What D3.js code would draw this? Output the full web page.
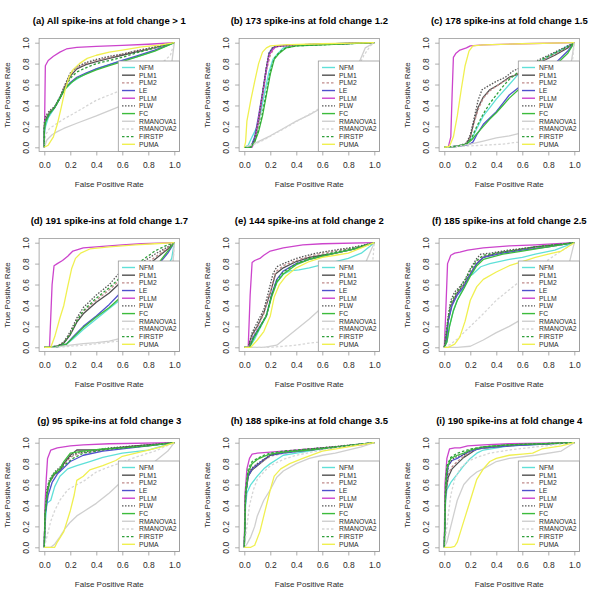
<!DOCTYPE html>
<html><head><meta charset="utf-8">
<script src="https://cdn.jsdelivr.net/npm/d3@7"></script>
<style>body{margin:0;background:#fff}svg{display:block}text{font-family:"Liberation Sans",Arial,sans-serif}</style>
</head><body><svg id="c" width="600" height="600"></svg>
<script>
const seriesNames = ["NFM","PLM1","PLM2","LE","PLLM","PLW","FC","RMANOVA1","RMANOVA2","FIRSTP","PUMA"];
const seriesColors = ["#5fe0d8","#505050","#c08c8c","#5050cc","#cc44cc","#555555","#3cbc3c","#cfcfcf","#d6d6d6","#2f9f3a","#f0f050"];
const seriesDash = [null,null,"2.5,2",null,null,"1.5,1.5",null,null,"2.5,2","2.5,2",null];
const panelTitles = ["(a) All spike-ins at fold change > 1","(b) 173 spike-ins at fold change 1.2","(c) 178 spike-ins at fold change 1.5","(d) 191 spike-ins at fold change 1.7","(e) 144 spike-ins at fold change 2","(f) 185 spike-ins at fold change 2.5","(g) 95 spike-ins at fold change 3","(h) 188 spike-ins at fold change 3.5","(i) 190 spike-ins at fold change 4"];
const tickValues = [0,0.2,0.4,0.6,0.8,1.0];

const rocA = [
 [[0,0],[0,0.12],[0.01,0.2],[0.03,0.28],[0.07,0.36],[0.12,0.48],[0.17,0.57],[0.22,0.63],[0.3,0.69],[0.4,0.75],[0.5,0.79],[0.6,0.83],[0.7,0.86],[0.8,0.9],[0.9,0.95],[1,1]],
 [[0,0],[0,0.2],[0.01,0.27],[0.04,0.33],[0.08,0.38],[0.12,0.47],[0.16,0.58],[0.2,0.68],[0.25,0.75],[0.32,0.79],[0.4,0.82],[0.5,0.85],[0.6,0.88],[0.7,0.91],[0.85,0.95],[1,1]],
 [[0,0],[0,0.22],[0.01,0.28],[0.04,0.34],[0.08,0.39],[0.12,0.48],[0.16,0.6],[0.2,0.7],[0.25,0.76],[0.32,0.8],[0.4,0.83],[0.5,0.86],[0.6,0.89],[0.7,0.92],[0.85,0.95],[1,1]],
 [[0,0],[0,0.18],[0.01,0.25],[0.04,0.32],[0.08,0.38],[0.12,0.47],[0.16,0.56],[0.2,0.62],[0.25,0.67],[0.32,0.71],[0.4,0.75],[0.5,0.79],[0.6,0.83],[0.7,0.87],[0.85,0.93],[1,1]],
 [[0,0],[0.003,0.3],[0.008,0.78],[0.03,0.83],[0.07,0.87],[0.12,0.91],[0.17,0.94],[0.25,0.955],[0.4,0.965],[0.6,0.975],[0.8,0.985],[1,1]],
 [[0,0],[0,0.25],[0.01,0.3],[0.04,0.35],[0.08,0.39],[0.12,0.48],[0.16,0.6],[0.2,0.71],[0.25,0.77],[0.32,0.81],[0.4,0.84],[0.5,0.87],[0.6,0.89],[0.7,0.92],[0.85,0.96],[1,1]],
 [[0,0],[0,0.16],[0.01,0.24],[0.04,0.32],[0.08,0.38],[0.12,0.47],[0.16,0.56],[0.2,0.61],[0.25,0.66],[0.32,0.7],[0.4,0.74],[0.5,0.78],[0.6,0.82],[0.7,0.86],[0.85,0.92],[1,1]],
 [[0,0],[0.02,0.07],[0.06,0.12],[0.1,0.15],[0.15,0.18],[0.25,0.23],[0.4,0.3],[0.5,0.35],[0.6,0.4],[0.7,0.46],[0.8,0.54],[0.9,0.62],[0.97,0.7],[1,1]],
 [[0,0],[0.01,0.12],[0.04,0.18],[0.1,0.23],[0.15,0.27],[0.25,0.34],[0.4,0.45],[0.5,0.5],[0.6,0.55],[0.7,0.62],[0.8,0.7],[0.9,0.8],[0.97,0.88],[1,1]],
 [[0,0],[0,0.2],[0.01,0.26],[0.04,0.33],[0.08,0.38],[0.12,0.47],[0.16,0.57],[0.2,0.66],[0.25,0.72],[0.32,0.76],[0.4,0.8],[0.5,0.83],[0.6,0.86],[0.7,0.9],[0.85,0.95],[1,1]],
 [[0,0],[0.03,0.02],[0.07,0.1],[0.1,0.22],[0.13,0.38],[0.16,0.55],[0.19,0.67],[0.22,0.74],[0.27,0.8],[0.33,0.85],[0.4,0.88],[0.5,0.91],[0.6,0.93],[0.75,0.96],[0.9,0.98],[1,1]]
];
const rocB = [
 [[0,0],[0.03,0.02],[0.06,0.1],[0.1,0.2],[0.13,0.35],[0.16,0.55],[0.19,0.72],[0.22,0.84],[0.26,0.9],[0.3,0.95],[0.35,0.97],[0.5,0.98],[0.7,0.99],[1,1]],
 [[0,0],[0.05,0],[0.08,0.08],[0.11,0.25],[0.14,0.5],[0.17,0.75],[0.19,0.88],[0.22,0.95],[0.26,0.97],[0.4,0.98],[0.7,0.99],[1,1]],
 [[0,0],[0.05,0],[0.08,0.07],[0.11,0.24],[0.14,0.48],[0.17,0.73],[0.2,0.88],[0.23,0.95],[0.27,0.97],[0.4,0.98],[0.7,0.99],[1,1]],
 [[0,0],[0.05,0],[0.08,0.1],[0.11,0.3],[0.14,0.52],[0.17,0.76],[0.19,0.9],[0.22,0.95],[0.26,0.97],[0.4,0.98],[0.7,0.99],[1,1]],
 [[0,0],[0.06,0],[0.08,0.06],[0.11,0.28],[0.14,0.5],[0.17,0.75],[0.19,0.88],[0.21,0.92],[0.24,0.96],[0.3,0.97],[0.5,0.98],[1,1]],
 [[0,0],[0.05,0],[0.08,0.08],[0.11,0.27],[0.14,0.52],[0.17,0.77],[0.19,0.9],[0.22,0.96],[0.3,0.97],[0.5,0.98],[1,1]],
 [[0,0],[0.05,0],[0.08,0.05],[0.11,0.15],[0.14,0.3],[0.17,0.5],[0.2,0.7],[0.23,0.84],[0.27,0.9],[0.32,0.95],[0.4,0.97],[0.6,0.98],[1,1]],
 [[0,0],[0.05,0.02],[0.1,0.05],[0.2,0.11],[0.3,0.18],[0.4,0.25],[0.5,0.31],[0.6,0.38],[0.7,0.48],[0.8,0.6],[0.88,0.8],[0.93,0.95],[1,1]],
 [[0,0],[0.08,0.03],[0.15,0.07],[0.25,0.14],[0.35,0.21],[0.45,0.28],[0.55,0.35],[0.65,0.43],[0.75,0.55],[0.85,0.7],[0.92,0.88],[0.97,0.97],[1,1]],
 [[0,0],[0.05,0],[0.08,0.06],[0.11,0.17],[0.14,0.33],[0.17,0.53],[0.2,0.72],[0.23,0.85],[0.27,0.91],[0.32,0.95],[0.4,0.97],[0.6,0.98],[1,1]],
 [[0,0],[0.01,0.05],[0.02,0.25],[0.05,0.45],[0.08,0.63],[0.11,0.8],[0.14,0.91],[0.17,0.95],[0.2,0.97],[0.3,0.98],[0.6,0.99],[1,1]]
];
const rocC = [
 [[0,0],[0.1,0.01],[0.17,0.03],[0.21,0.08],[0.25,0.18],[0.3,0.3],[0.35,0.38],[0.4,0.46],[0.45,0.53],[0.5,0.6],[0.57,0.7],[0.65,0.77],[0.75,0.83],[0.85,0.9],[0.95,0.97],[1,1]],
 [[0,0],[0.1,0.01],[0.17,0.03],[0.2,0.1],[0.23,0.25],[0.26,0.38],[0.3,0.48],[0.35,0.55],[0.42,0.6],[0.5,0.67],[0.57,0.7],[0.65,0.75],[0.75,0.82],[0.85,0.88],[0.95,0.95],[1,1]],
 [[0,0],[0.1,0.01],[0.17,0.03],[0.2,0.1],[0.23,0.24],[0.26,0.36],[0.3,0.47],[0.35,0.54],[0.42,0.6],[0.5,0.66],[0.57,0.71],[0.65,0.76],[0.75,0.83],[0.85,0.89],[0.95,0.96],[1,1]],
 [[0,0],[0.1,0.01],[0.18,0.02],[0.22,0.05],[0.25,0.12],[0.3,0.22],[0.35,0.28],[0.4,0.34],[0.45,0.42],[0.5,0.5],[0.57,0.57],[0.65,0.62],[0.75,0.7],[0.85,0.8],[0.95,0.92],[1,1]],
 [[0,0],[0.03,0],[0.05,0.1],[0.06,0.5],[0.07,0.86],[0.09,0.9],[0.12,0.93],[0.17,0.95],[0.2,0.97],[0.3,0.98],[0.6,0.99],[1,1]],
 [[0,0],[0.1,0.01],[0.17,0.04],[0.2,0.12],[0.23,0.28],[0.26,0.45],[0.29,0.55],[0.33,0.58],[0.4,0.63],[0.47,0.67],[0.53,0.73],[0.6,0.77],[0.7,0.82],[0.8,0.88],[0.9,0.94],[1,1]],
 [[0,0],[0.1,0.01],[0.17,0.03],[0.21,0.07],[0.25,0.13],[0.3,0.2],[0.35,0.27],[0.4,0.33],[0.45,0.4],[0.5,0.47],[0.57,0.55],[0.65,0.6],[0.75,0.68],[0.85,0.78],[0.95,0.9],[1,1]],
 [[0,0],[0.1,0.01],[0.2,0.03],[0.3,0.06],[0.4,0.09],[0.5,0.11],[0.57,0.13],[0.65,0.17],[0.75,0.25],[0.85,0.38],[0.95,0.6],[1,1]],
 [[0,0],[0.15,0.01],[0.3,0.02],[0.45,0.03],[0.57,0.05],[0.65,0.08],[0.75,0.13],[0.85,0.22],[0.95,0.4],[1,1]],
 [[0,0],[0.1,0.01],[0.17,0.03],[0.21,0.09],[0.25,0.2],[0.3,0.32],[0.35,0.42],[0.4,0.5],[0.45,0.58],[0.5,0.65],[0.57,0.72],[0.65,0.77],[0.75,0.84],[0.85,0.9],[0.95,0.96],[1,1]],
 [[0,0],[0.04,0.01],[0.07,0.1],[0.1,0.3],[0.13,0.55],[0.16,0.78],[0.19,0.92],[0.22,0.97],[0.3,0.98],[0.6,0.99],[1,1]]
];
const rocD = [
 [[0,0],[0.1,0.005],[0.17,0.03],[0.22,0.08],[0.3,0.17],[0.4,0.27],[0.5,0.37],[0.57,0.44],[0.65,0.5],[0.75,0.58],[0.85,0.68],[0.95,0.78],[0.98,0.85],[1,1]],
 [[0,0],[0.1,0.01],[0.15,0.04],[0.2,0.12],[0.25,0.24],[0.3,0.32],[0.4,0.43],[0.5,0.52],[0.57,0.6],[0.65,0.66],[0.75,0.74],[0.85,0.84],[0.95,0.94],[1,1]],
 [[0,0],[0.1,0.01],[0.15,0.05],[0.2,0.13],[0.25,0.26],[0.3,0.34],[0.4,0.45],[0.5,0.55],[0.57,0.63],[0.65,0.69],[0.75,0.77],[0.85,0.86],[0.95,0.95],[1,1]],
 [[0,0],[0.1,0.005],[0.17,0.03],[0.22,0.1],[0.3,0.2],[0.4,0.3],[0.5,0.41],[0.57,0.5],[0.65,0.56],[0.75,0.64],[0.85,0.75],[0.95,0.9],[1,1]],
 [[0,0],[0.04,0],[0.05,0.3],[0.06,0.6],[0.075,0.78],[0.1,0.8],[0.14,0.83],[0.18,0.87],[0.22,0.92],[0.3,0.95],[0.45,0.965],[0.6,0.98],[0.75,0.99],[1,1]],
 [[0,0],[0.1,0.01],[0.15,0.05],[0.2,0.15],[0.25,0.28],[0.3,0.38],[0.4,0.5],[0.5,0.6],[0.57,0.7],[0.65,0.75],[0.75,0.81],[0.85,0.89],[0.95,0.96],[1,1]],
 [[0,0],[0.1,0.005],[0.17,0.03],[0.22,0.09],[0.3,0.19],[0.4,0.29],[0.5,0.38],[0.57,0.46],[0.65,0.54],[0.75,0.64],[0.85,0.76],[0.95,0.92],[1,1]],
 [[0,0],[0.1,0.005],[0.2,0.02],[0.3,0.035],[0.4,0.045],[0.5,0.06],[0.57,0.08],[0.7,0.12],[0.8,0.18],[0.9,0.28],[0.97,0.45],[1,1]],
 [[0,0],[0.15,0.005],[0.3,0.02],[0.45,0.04],[0.57,0.06],[0.7,0.09],[0.8,0.13],[0.9,0.2],[0.97,0.3],[1,1]],
 [[0,0],[0.1,0.01],[0.15,0.04],[0.2,0.13],[0.25,0.25],[0.3,0.35],[0.4,0.47],[0.5,0.57],[0.57,0.65],[0.65,0.72],[0.75,0.83],[0.85,0.92],[0.95,0.98],[1,1]],
 [[0,0],[0.05,0],[0.08,0.1],[0.12,0.28],[0.15,0.4],[0.18,0.58],[0.21,0.75],[0.24,0.85],[0.28,0.9],[0.35,0.94],[0.5,0.96],[0.7,0.98],[0.85,0.99],[1,1]]
];
const rocE = [
 [[0,0],[0.04,0],[0.08,0.08],[0.12,0.18],[0.17,0.3],[0.21,0.5],[0.25,0.62],[0.3,0.7],[0.35,0.73],[0.42,0.74],[0.5,0.76],[0.6,0.79],[0.7,0.82],[0.8,0.85],[0.9,0.9],[1,1]],
 [[0,0],[0.03,0],[0.06,0.12],[0.1,0.2],[0.15,0.33],[0.2,0.52],[0.24,0.7],[0.3,0.76],[0.4,0.82],[0.5,0.86],[0.6,0.88],[0.7,0.9],[0.85,0.94],[1,1]],
 [[0,0],[0.03,0],[0.06,0.1],[0.1,0.19],[0.15,0.32],[0.2,0.53],[0.24,0.72],[0.3,0.78],[0.4,0.83],[0.5,0.87],[0.6,0.9],[0.7,0.92],[0.85,0.95],[1,1]],
 [[0,0],[0.04,0],[0.07,0.1],[0.12,0.2],[0.17,0.3],[0.21,0.5],[0.25,0.65],[0.3,0.73],[0.4,0.8],[0.5,0.84],[0.6,0.87],[0.7,0.9],[0.85,0.94],[1,1]],
 [[0,0],[0.03,0],[0.045,0.5],[0.06,0.81],[0.08,0.83],[0.12,0.85],[0.15,0.88],[0.2,0.92],[0.3,0.95],[0.45,0.98],[0.6,0.99],[1,1]],
 [[0,0],[0.03,0],[0.06,0.14],[0.1,0.24],[0.15,0.36],[0.18,0.5],[0.22,0.7],[0.25,0.77],[0.3,0.8],[0.4,0.85],[0.55,0.9],[0.7,0.93],[0.85,0.96],[1,1]],
 [[0,0],[0.04,0],[0.07,0.08],[0.12,0.19],[0.17,0.3],[0.21,0.48],[0.25,0.62],[0.3,0.7],[0.4,0.79],[0.5,0.84],[0.6,0.87],[0.7,0.9],[0.85,0.94],[1,1]],
 [[0,0],[0.15,0],[0.25,0.02],[0.3,0.07],[0.4,0.17],[0.5,0.27],[0.57,0.35],[0.65,0.43],[0.75,0.53],[0.85,0.65],[0.93,0.8],[1,1]],
 [[0,0],[0.2,0],[0.3,0.01],[0.4,0.02],[0.5,0.04],[0.57,0.05],[0.7,0.08],[0.8,0.12],[0.9,0.2],[0.96,0.4],[1,1]],
 [[0,0],[0.04,0],[0.07,0.09],[0.12,0.19],[0.17,0.31],[0.21,0.5],[0.25,0.64],[0.3,0.72],[0.4,0.8],[0.5,0.85],[0.6,0.88],[0.7,0.91],[0.85,0.95],[1,1]],
 [[0,0],[0.05,0],[0.1,0.07],[0.15,0.15],[0.2,0.3],[0.23,0.48],[0.27,0.6],[0.32,0.68],[0.4,0.76],[0.5,0.82],[0.6,0.86],[0.7,0.88],[0.8,0.9],[0.9,0.95],[1,1]]
];
const rocF = [
 [[0,0],[0.02,0.05],[0.04,0.2],[0.07,0.35],[0.1,0.45],[0.15,0.58],[0.18,0.67],[0.22,0.7],[0.28,0.77],[0.35,0.8],[0.5,0.84],[0.6,0.86],[0.7,0.89],[0.85,0.93],[1,1]],
 [[0,0],[0.01,0.05],[0.03,0.25],[0.06,0.42],[0.1,0.52],[0.15,0.6],[0.2,0.7],[0.25,0.8],[0.3,0.86],[0.4,0.9],[0.55,0.93],[0.7,0.96],[0.85,0.98],[1,1]],
 [[0,0],[0.01,0.06],[0.03,0.27],[0.06,0.44],[0.1,0.53],[0.15,0.6],[0.2,0.72],[0.25,0.82],[0.3,0.87],[0.4,0.9],[0.55,0.93],[0.7,0.95],[0.85,0.97],[1,1]],
 [[0,0],[0.015,0.05],[0.03,0.25],[0.06,0.4],[0.1,0.5],[0.15,0.58],[0.2,0.7],[0.25,0.8],[0.3,0.86],[0.45,0.9],[0.6,0.93],[0.8,0.96],[1,1]],
 [[0,0],[0.01,0.3],[0.025,0.8],[0.05,0.88],[0.08,0.9],[0.12,0.91],[0.18,0.93],[0.3,0.95],[0.5,0.97],[0.7,0.98],[1,1]],
 [[0,0],[0.01,0.1],[0.03,0.3],[0.05,0.45],[0.08,0.53],[0.12,0.58],[0.16,0.65],[0.2,0.75],[0.25,0.85],[0.28,0.89],[0.35,0.9],[0.5,0.93],[0.7,0.96],[1,1]],
 [[0,0],[0.02,0.05],[0.04,0.2],[0.07,0.35],[0.1,0.45],[0.15,0.56],[0.2,0.68],[0.25,0.78],[0.3,0.84],[0.45,0.89],[0.6,0.92],[0.8,0.96],[1,1]],
 [[0,0],[0.1,0],[0.2,0.01],[0.3,0.07],[0.4,0.14],[0.5,0.2],[0.57,0.25],[0.7,0.35],[0.8,0.45],[0.9,0.62],[0.96,0.8],[1,1]],
 [[0,0],[0.05,0.03],[0.1,0.08],[0.2,0.2],[0.3,0.32],[0.4,0.45],[0.5,0.55],[0.57,0.62],[0.7,0.75],[0.85,0.88],[1,1]],
 [[0,0],[0.01,0.08],[0.03,0.28],[0.05,0.42],[0.08,0.5],[0.12,0.57],[0.16,0.64],[0.2,0.74],[0.25,0.83],[0.3,0.88],[0.4,0.9],[0.55,0.93],[0.7,0.96],[1,1]],
 [[0,0],[0.03,0],[0.08,0.03],[0.12,0.1],[0.16,0.25],[0.2,0.45],[0.25,0.58],[0.3,0.65],[0.4,0.72],[0.5,0.78],[0.6,0.82],[0.7,0.86],[0.8,0.89],[0.9,0.92],[1,1]]
];
const rocG = [
 [[0,0],[0.005,0.2],[0.02,0.42],[0.05,0.45],[0.08,0.58],[0.12,0.68],[0.18,0.75],[0.25,0.78],[0.35,0.82],[0.45,0.86],[0.6,0.9],[0.8,0.93],[1,1]],
 [[0,0],[0.005,0.3],[0.02,0.5],[0.04,0.62],[0.08,0.7],[0.12,0.73],[0.15,0.8],[0.2,0.88],[0.25,0.93],[0.4,0.93],[0.55,0.95],[0.7,0.97],[1,1]],
 [[0,0],[0.005,0.32],[0.02,0.52],[0.04,0.63],[0.08,0.7],[0.12,0.74],[0.15,0.79],[0.2,0.86],[0.27,0.9],[0.4,0.92],[0.55,0.94],[0.7,0.96],[1,1]],
 [[0,0],[0.005,0.3],[0.03,0.5],[0.06,0.62],[0.1,0.7],[0.15,0.76],[0.2,0.82],[0.3,0.88],[0.45,0.92],[0.6,0.94],[0.8,0.97],[1,1]],
 [[0,0],[0.005,0.4],[0.015,0.65],[0.025,0.85],[0.05,0.93],[0.1,0.95],[0.2,0.97],[0.3,0.98],[0.5,0.99],[1,1]],
 [[0,0],[0.005,0.3],[0.02,0.55],[0.04,0.65],[0.08,0.72],[0.15,0.8],[0.2,0.87],[0.25,0.9],[0.35,0.92],[0.5,0.95],[0.7,0.97],[1,1]],
 [[0,0],[0.005,0.3],[0.02,0.5],[0.04,0.62],[0.07,0.7],[0.12,0.75],[0.15,0.82],[0.2,0.9],[0.3,0.92],[0.45,0.94],[0.6,0.95],[0.8,0.97],[1,1]],
 [[0,0],[0.05,0],[0.08,0.03],[0.12,0.1],[0.16,0.18],[0.2,0.24],[0.25,0.3],[0.3,0.34],[0.4,0.42],[0.5,0.52],[0.57,0.6],[0.7,0.7],[0.85,0.82],[0.95,0.92],[1,1]],
 [[0,0],[0.02,0.1],[0.05,0.25],[0.08,0.35],[0.12,0.45],[0.18,0.55],[0.25,0.6],[0.3,0.63],[0.4,0.72],[0.5,0.77],[0.57,0.8],[0.7,0.86],[0.85,0.92],[1,1]],
 [[0,0],[0.005,0.3],[0.03,0.6],[0.06,0.68],[0.1,0.72],[0.15,0.78],[0.22,0.85],[0.3,0.9],[0.5,0.94],[0.7,0.96],[1,1]],
 [[0,0],[0.03,0],[0.08,0],[0.1,0.05],[0.15,0.15],[0.2,0.35],[0.23,0.5],[0.25,0.64],[0.3,0.68],[0.35,0.74],[0.45,0.78],[0.55,0.83],[0.6,0.87],[0.8,0.93],[0.9,0.96],[1,1]]
];
const rocH = [
 [[0,0],[0.01,0.4],[0.02,0.52],[0.05,0.6],[0.1,0.68],[0.15,0.75],[0.2,0.8],[0.25,0.84],[0.3,0.88],[0.4,0.9],[0.6,0.94],[1,1]],
 [[0,0],[0.01,0.5],[0.03,0.68],[0.06,0.74],[0.1,0.78],[0.15,0.83],[0.2,0.88],[0.3,0.91],[0.5,0.93],[1,1]],
 [[0,0],[0.01,0.52],[0.03,0.7],[0.06,0.75],[0.1,0.79],[0.15,0.83],[0.2,0.87],[0.3,0.9],[0.5,0.93],[1,1]],
 [[0,0],[0.01,0.5],[0.03,0.68],[0.06,0.75],[0.1,0.79],[0.15,0.84],[0.2,0.88],[0.3,0.9],[0.5,0.93],[1,1]],
 [[0,0],[0.005,0.5],[0.02,0.75],[0.04,0.85],[0.06,0.89],[0.1,0.9],[0.2,0.91],[0.3,0.92],[0.5,0.94],[0.7,0.96],[0.9,0.98],[1,1]],
 [[0,0],[0.01,0.5],[0.03,0.7],[0.06,0.76],[0.1,0.8],[0.15,0.84],[0.2,0.88],[0.3,0.91],[0.5,0.94],[1,1]],
 [[0,0],[0.01,0.5],[0.03,0.72],[0.06,0.8],[0.1,0.84],[0.15,0.87],[0.2,0.89],[0.3,0.91],[0.5,0.93],[1,1]],
 [[0,0],[0.02,0.03],[0.05,0.1],[0.08,0.2],[0.1,0.3],[0.15,0.45],[0.2,0.55],[0.25,0.67],[0.3,0.73],[0.4,0.8],[0.5,0.85],[0.6,0.88],[0.7,0.9],[0.9,0.96],[1,1]],
 [[0,0],[0.02,0.2],[0.04,0.4],[0.07,0.55],[0.1,0.65],[0.15,0.72],[0.2,0.78],[0.3,0.84],[0.4,0.88],[0.6,0.93],[1,1]],
 [[0,0],[0.01,0.55],[0.03,0.75],[0.06,0.82],[0.1,0.85],[0.15,0.88],[0.2,0.9],[0.3,0.92],[0.5,0.94],[0.7,0.96],[1,1]],
 [[0,0],[0.05,0],[0.08,0.02],[0.12,0.15],[0.16,0.35],[0.2,0.55],[0.23,0.68],[0.28,0.75],[0.35,0.8],[0.45,0.85],[0.6,0.92],[0.8,0.96],[1,1]]
];
const rocI = [
 [[0,0],[0.01,0.45],[0.02,0.55],[0.05,0.62],[0.1,0.7],[0.15,0.78],[0.2,0.85],[0.25,0.9],[0.3,0.93],[0.5,0.97],[1,1]],
 [[0,0],[0.01,0.5],[0.03,0.67],[0.06,0.75],[0.1,0.8],[0.15,0.86],[0.2,0.9],[0.25,0.94],[0.4,0.96],[0.6,0.98],[1,1]],
 [[0,0],[0.01,0.52],[0.03,0.7],[0.06,0.77],[0.1,0.82],[0.15,0.87],[0.2,0.91],[0.25,0.94],[0.4,0.96],[0.6,0.98],[1,1]],
 [[0,0],[0.01,0.55],[0.03,0.78],[0.06,0.83],[0.1,0.85],[0.15,0.89],[0.2,0.92],[0.3,0.95],[0.5,0.97],[1,1]],
 [[0,0],[0.005,0.6],[0.02,0.85],[0.04,0.94],[0.08,0.95],[0.12,0.95],[0.18,0.97],[0.3,0.98],[0.5,0.99],[1,1]],
 [[0,0],[0.01,0.55],[0.03,0.78],[0.06,0.84],[0.1,0.87],[0.15,0.88],[0.2,0.93],[0.3,0.96],[0.5,0.98],[1,1]],
 [[0,0],[0.01,0.55],[0.02,0.75],[0.05,0.85],[0.1,0.88],[0.15,0.9],[0.2,0.93],[0.3,0.96],[0.5,0.98],[1,1]],
 [[0,0],[0.02,0.05],[0.05,0.2],[0.08,0.35],[0.1,0.45],[0.15,0.6],[0.2,0.67],[0.25,0.72],[0.3,0.75],[0.4,0.82],[0.5,0.85],[0.7,0.88],[0.9,0.92],[1,1]],
 [[0,0],[0.02,0.2],[0.05,0.5],[0.08,0.65],[0.12,0.75],[0.18,0.82],[0.25,0.86],[0.35,0.9],[0.5,0.93],[0.7,0.96],[1,1]],
 [[0,0],[0.01,0.6],[0.02,0.78],[0.05,0.86],[0.1,0.9],[0.15,0.92],[0.2,0.94],[0.3,0.96],[0.5,0.98],[1,1]],
 [[0,0],[0.05,0],[0.08,0.01],[0.1,0.05],[0.15,0.25],[0.2,0.45],[0.25,0.65],[0.3,0.75],[0.35,0.82],[0.4,0.85],[0.5,0.88],[0.6,0.89],[0.68,0.9],[0.75,0.94],[0.9,0.97],[1,1]]
];
const panels = [rocA,rocB,rocC,rocD,rocE,rocF,rocG,rocH,rocI];

const svg = d3.select("#c");
const boxCol = "#9a9a9a", txtCol = "#2a2a2a";
panels.forEach((data, i) => {
  const c = i % 3, r = Math.floor(i / 3);
  const ox = c * 200, oy = r * 200;
  const x = d3.scaleLinear().domain([0, 1]).range([ox + 44.3, ox + 174.3]);
  const y = d3.scaleLinear().domain([0, 1]).range([oy + 147.3, oy + 42.7]);
  const g = svg.append("g");
  const bx0 = x(-0.04), bx1 = x(1.04), by0 = y(1.04), by1 = y(-0.04);

  const line = d3.line().x(d => x(d[0])).y(d => y(d[1]));
  data.forEach((pts, k) => {
    g.append("path").attr("d", line(pts)).attr("fill", "none")
      .attr("stroke", seriesColors[k]).attr("stroke-width", 1.3)
      .attr("stroke-dasharray", seriesDash[k]).attr("stroke-linejoin", "round");
  });

  // legend (bottom-right, opaque)
  const lx = ox + 118.3, ly = oy + 61;
  const lg = g.append("g");
  lg.append("rect").attr("x", lx).attr("y", ly).attr("width", bx1 - lx).attr("height", by1 - ly)
    .attr("fill", "#fff").attr("stroke", boxCol).attr("stroke-width", 0.8);
  seriesNames.forEach((nm, k) => {
    const yy = ly + 6.5 + k * 7.68;
    lg.append("line").attr("x1", ox + 122).attr("x2", ox + 135).attr("y1", yy).attr("y2", yy)
      .attr("stroke", seriesColors[k]).attr("stroke-width", 1.4).attr("stroke-dasharray", seriesDash[k]);
    lg.append("text").attr("x", ox + 139).attr("y", yy + 2.4).attr("font-size", 6.8).attr("fill", txtCol).text(nm);
  });

  g.append("rect").attr("x", bx0).attr("y", by0).attr("width", bx1 - bx0).attr("height", by1 - by0)
    .attr("fill", "none").attr("stroke", boxCol).attr("stroke-width", 0.8);

  const fmt = d3.format(".1f");
  const ax = g.append("g").attr("transform", `translate(0,${by1})`)
    .call(d3.axisBottom(x).tickValues(tickValues).tickFormat(fmt).tickSize(4).tickSizeOuter(0));
  ax.select(".domain").remove();
  ax.selectAll("line").attr("stroke", boxCol).attr("stroke-width", 0.8);
  ax.selectAll("text").attr("y", 17).attr("dy", 0).attr("font-size", 8.5).attr("fill", txtCol)
    .attr("font-family", '"Liberation Sans",Arial,sans-serif');

  const ay = g.append("g").attr("transform", `translate(${bx0},0)`)
    .call(d3.axisLeft(y).tickValues(tickValues).tickFormat(fmt).tickSize(4).tickSizeOuter(0));
  ay.select(".domain").remove();
  ay.selectAll("line").attr("stroke", boxCol).attr("stroke-width", 0.8);
  ay.selectAll("text").attr("transform", "rotate(-90)").attr("x", 0).attr("y", -10).attr("dy", 0)
    .attr("text-anchor", "middle").attr("font-size", 8.5).attr("fill", txtCol)
    .attr("font-family", '"Liberation Sans",Arial,sans-serif');

  const cx = (x(0) + x(1)) / 2, cy = (y(0) + y(1)) / 2;
  g.append("text").attr("x", cx).attr("y", oy + 24.3).attr("text-anchor", "middle")
    .attr("font-size", 9.5).attr("font-weight", "bold").attr("fill", "#000").text(panelTitles[i]);
  g.append("text").attr("x", cx).attr("y", by1 + 35.5).attr("text-anchor", "middle")
    .attr("font-size", 8).attr("fill", txtCol).text("False Positive Rate");
  g.append("text").attr("transform", `translate(${ox + 10.3},${cy}) rotate(-90)`).attr("text-anchor", "middle")
    .attr("font-size", 8).attr("fill", txtCol).text("True Positive Rate");
});
</script></body></html>
